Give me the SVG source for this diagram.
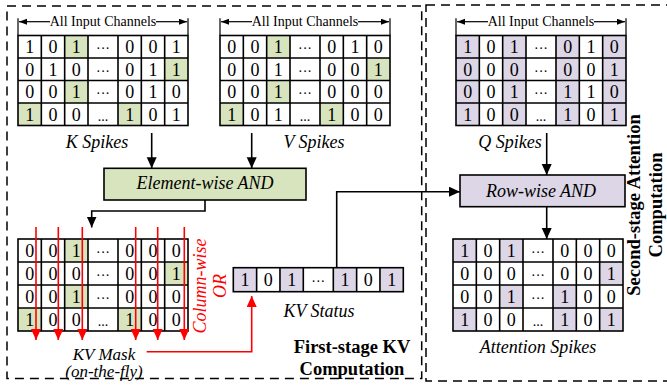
<svg xmlns="http://www.w3.org/2000/svg" xmlns:xlink="http://www.w3.org/1999/xlink" width="667" height="385" viewBox="0 0 667 385">
<style>
.ln{fill:none;stroke:#000;stroke-width:1.6}
.dash{fill:none;stroke:#000;stroke-width:1.5;stroke-dasharray:9 6}
.gr{fill:#d7e4bd}
.pu{fill:#dcd6e7}
.d{font-family:"Liberation Serif","Times New Roman",serif;font-size:18px;text-anchor:middle;fill:#000}
.dt{font-size:14px}
.cap{font-family:"Liberation Serif","Times New Roman",serif;font-size:14px;text-anchor:middle;fill:#000}
.it{font-family:"Liberation Serif","Times New Roman",serif;font-size:18px;font-style:italic;text-anchor:middle;fill:#000}
.sm{font-size:17px}
.bd{font-family:"Liberation Serif","Times New Roman",serif;font-size:18.5px;font-weight:bold;text-anchor:middle;fill:#000}
.red{fill:none;stroke:#f00;stroke-width:1.6}
.conn{fill:none;stroke:#000;stroke-width:1.6}
</style>
<defs>
<marker id="ah" markerUnits="userSpaceOnUse" markerWidth="12" markerHeight="12" refX="11" refY="5" orient="auto"><path d="M0,0 L11,5 L0,10 z" fill="#000"/></marker>
<marker id="ahr" markerUnits="userSpaceOnUse" markerWidth="12" markerHeight="12" refX="11" refY="5" orient="auto"><path d="M0,0 L11,5 L0,10 z" fill="#f00"/></marker>
<marker id="sa" markerUnits="userSpaceOnUse" markerWidth="9" markerHeight="8" refX="8" refY="3" orient="auto"><path d="M0,0 L8,3 L0,6 z" fill="#000"/></marker>
<g id="gridA" class="ln"><rect x="0" y="0" width="170" height="90"/><path d="M23.33,0V90M46.67,0V90M70,0V90M100,0V90M123.33,0V90M146.67,0V90M0,22.5H170M0,45H170M0,67.5H170"/></g>
<g id="gridB" class="ln"><rect x="0" y="0" width="170" height="92"/><path d="M23.33,0V92M46.67,0V92M70,0V92M100,0V92M123.33,0V92M146.67,0V92M0,23H170M0,46H170M0,69H170"/></g>
<g id="brk"><path class="ln" d="M0,18.3V35.5M170,18.3V35.5" style="stroke-width:1.2"/><path d="M32,21.7H1" class="ln" style="stroke-width:1.2" marker-end="url(#sa)"/><path d="M138,21.7H169" class="ln" style="stroke-width:1.2" marker-end="url(#sa)"/><text class="cap" x="85" y="26">All Input Channels</text></g>
</defs>

<g id="frames">
<rect class="dash" x="7" y="6" width="414.7" height="372.5"/>
<rect class="dash" x="426" y="5" width="250" height="376"/>
</g>

<g id="k-spikes">
<use xlink:href="#brk" transform="translate(18,0)"/>
<g transform="translate(18,35.5)">
<rect class="gr" x="46.67" y="0" width="23.33" height="22.5"/>
<rect class="gr" x="146.67" y="22.5" width="23.33" height="22.5"/>
<rect class="gr" x="46.67" y="45" width="23.33" height="22.5"/>
<rect class="gr" x="0" y="67.5" width="23.33" height="22.5"/>
<rect class="gr" x="100" y="67.5" width="23.33" height="22.5"/>
<use xlink:href="#gridA"/>
<text class="d" y="17.5"><tspan x="11.67">1</tspan><tspan x="35">0</tspan><tspan x="58.33">1</tspan><tspan x="85" class="dt">···</tspan><tspan x="111.67">0</tspan><tspan x="135">0</tspan><tspan x="158.33">1</tspan></text>
<text class="d" y="40"><tspan x="11.67">0</tspan><tspan x="35">1</tspan><tspan x="58.33">0</tspan><tspan x="85" class="dt">···</tspan><tspan x="111.67">0</tspan><tspan x="135">1</tspan><tspan x="158.33">1</tspan></text>
<text class="d" y="62.5"><tspan x="11.67">0</tspan><tspan x="35">0</tspan><tspan x="58.33">1</tspan><tspan x="85" class="dt">···</tspan><tspan x="111.67">0</tspan><tspan x="135">1</tspan><tspan x="158.33">0</tspan></text>
<text class="d" y="85"><tspan x="11.67">1</tspan><tspan x="35">0</tspan><tspan x="58.33">0</tspan><tspan x="85" class="dt">...</tspan><tspan x="111.67">1</tspan><tspan x="135">0</tspan><tspan x="158.33">1</tspan></text>
</g>
<text class="it" x="97" y="148">K Spikes</text>
</g>

<g id="v-spikes">
<use xlink:href="#brk" transform="translate(220,0)"/>
<g transform="translate(220,35.5)">
<rect class="gr" x="46.67" y="0" width="23.33" height="22.5"/>
<rect class="gr" x="146.67" y="22.5" width="23.33" height="22.5"/>
<rect class="gr" x="46.67" y="45" width="23.33" height="22.5"/>
<rect class="gr" x="0" y="67.5" width="23.33" height="22.5"/>
<rect class="gr" x="100" y="67.5" width="23.33" height="22.5"/>
<use xlink:href="#gridA"/>
<text class="d" y="17.5"><tspan x="11.67">0</tspan><tspan x="35">0</tspan><tspan x="58.33">1</tspan><tspan x="85" class="dt">···</tspan><tspan x="111.67">0</tspan><tspan x="135">1</tspan><tspan x="158.33">0</tspan></text>
<text class="d" y="40"><tspan x="11.67">0</tspan><tspan x="35">0</tspan><tspan x="58.33">1</tspan><tspan x="85" class="dt">···</tspan><tspan x="111.67">0</tspan><tspan x="135">0</tspan><tspan x="158.33">1</tspan></text>
<text class="d" y="62.5"><tspan x="11.67">0</tspan><tspan x="35">0</tspan><tspan x="58.33">1</tspan><tspan x="85" class="dt">···</tspan><tspan x="111.67">0</tspan><tspan x="135">0</tspan><tspan x="158.33">0</tspan></text>
<text class="d" y="85"><tspan x="11.67">1</tspan><tspan x="35">0</tspan><tspan x="58.33">1</tspan><tspan x="85" class="dt">...</tspan><tspan x="111.67">1</tspan><tspan x="135">0</tspan><tspan x="158.33">0</tspan></text>
</g>
<text class="it" x="314" y="148">V Spikes</text>
</g>

<g id="q-spikes">
<use xlink:href="#brk" transform="translate(456,0)"/>
<g transform="translate(456,35.5)">
<rect class="pu" x="0" y="0" width="23.33" height="90"/>
<rect class="pu" x="46.67" y="0" width="23.33" height="90"/>
<rect class="pu" x="100" y="0" width="23.33" height="90"/>
<rect class="pu" x="146.67" y="0" width="23.33" height="90"/>
<use xlink:href="#gridA"/>
<text class="d" y="17.5"><tspan x="11.67">1</tspan><tspan x="35">0</tspan><tspan x="58.33">1</tspan><tspan x="85" class="dt">···</tspan><tspan x="111.67">0</tspan><tspan x="135">1</tspan><tspan x="158.33">0</tspan></text>
<text class="d" y="40"><tspan x="11.67">0</tspan><tspan x="35">0</tspan><tspan x="58.33">0</tspan><tspan x="85" class="dt">···</tspan><tspan x="111.67">0</tspan><tspan x="135">0</tspan><tspan x="158.33">1</tspan></text>
<text class="d" y="62.5"><tspan x="11.67">0</tspan><tspan x="35">0</tspan><tspan x="58.33">1</tspan><tspan x="85" class="dt">···</tspan><tspan x="111.67">1</tspan><tspan x="135">1</tspan><tspan x="158.33">0</tspan></text>
<text class="d" y="85"><tspan x="11.67">1</tspan><tspan x="35">0</tspan><tspan x="58.33">0</tspan><tspan x="85" class="dt">...</tspan><tspan x="111.67">1</tspan><tspan x="135">0</tspan><tspan x="158.33">1</tspan></text>
</g>
<text class="it" x="510" y="148">Q Spikes</text>
</g>

<g id="element-and">
<rect x="104" y="168.3" width="202" height="31.7" class="gr" stroke="#000" stroke-width="1.6"/>
<text class="it" x="205" y="189">Element-wise AND</text>
</g>

<g id="row-and">
<rect x="460" y="175" width="165" height="31.7" class="pu" stroke="#000" stroke-width="1.6"/>
<text class="it" x="541" y="196.5">Row-wise AND</text>
</g>

<g id="kv-mask">
<g transform="translate(18,239)">
<rect class="gr" x="46.67" y="0" width="23.33" height="23"/>
<rect class="gr" x="146.67" y="23" width="23.33" height="23"/>
<rect class="gr" x="46.67" y="46" width="23.33" height="23"/>
<rect class="gr" x="0" y="69" width="23.33" height="23"/>
<rect class="gr" x="100" y="69" width="23.33" height="23"/>
<use xlink:href="#gridB"/>
<text class="d" y="17.7"><tspan x="11.67">0</tspan><tspan x="35">0</tspan><tspan x="58.33">1</tspan><tspan x="85" class="dt">···</tspan><tspan x="111.67">0</tspan><tspan x="135">0</tspan><tspan x="158.33">0</tspan></text>
<text class="d" y="40.7"><tspan x="11.67">0</tspan><tspan x="35">0</tspan><tspan x="58.33">0</tspan><tspan x="85" class="dt">···</tspan><tspan x="111.67">0</tspan><tspan x="135">0</tspan><tspan x="158.33">1</tspan></text>
<text class="d" y="63.7"><tspan x="11.67">0</tspan><tspan x="35">0</tspan><tspan x="58.33">1</tspan><tspan x="85" class="dt">···</tspan><tspan x="111.67">0</tspan><tspan x="135">0</tspan><tspan x="158.33">0</tspan></text>
<text class="d" y="86.7"><tspan x="11.67">1</tspan><tspan x="35">0</tspan><tspan x="58.33">0</tspan><tspan x="85" class="dt">...</tspan><tspan x="111.67">1</tspan><tspan x="135">0</tspan><tspan x="158.33">0</tspan></text>
</g>
<g class="red" marker-end="url(#ahr)">
<path d="M36,227V340"/><path d="M58.3,227V340"/><path d="M82.3,227V340"/><path d="M135.7,227V340"/><path d="M157.7,227V340"/><path d="M184.3,227V340"/>
</g>
<text class="it" transform="translate(205.5,286) rotate(-90)" style="fill:#f00">Column-wise</text>
<text class="it" transform="translate(226,286) rotate(-90)" style="fill:#f00">OR</text>
<text class="it sm" x="104" y="359.5">KV Mask</text>
<text class="it sm" x="104" y="377">(on-the-fly)</text>
</g>

<g id="kv-status">
<g transform="translate(233.3,267.7)">
<rect class="pu" x="0" y="0" width="23.33" height="24"/>
<rect class="pu" x="46.67" y="0" width="23.33" height="24"/>
<rect class="pu" x="100" y="0" width="23.33" height="24"/>
<rect class="pu" x="146.67" y="0" width="23.33" height="24"/>
<rect class="ln" x="0" y="0" width="170" height="24"/>
<path class="ln" d="M23.33,0V24M46.67,0V24M70,0V24M100,0V24M123.33,0V24M146.67,0V24"/>
<text class="d" y="18.3"><tspan x="11.67">1</tspan><tspan x="35">0</tspan><tspan x="58.33">1</tspan><tspan x="85" class="dt">···</tspan><tspan x="111.67">1</tspan><tspan x="135">0</tspan><tspan x="158.33">1</tspan></text>
</g>
<text class="it" x="319" y="316.5">KV Status</text>
</g>

<g id="attention-spikes">
<g transform="translate(453,239)">
<rect class="pu" x="0" y="0" width="23.33" height="23"/>
<rect class="pu" x="46.67" y="0" width="23.33" height="23"/>
<rect class="pu" x="146.67" y="23" width="23.33" height="23"/>
<rect class="pu" x="46.67" y="46" width="23.33" height="23"/>
<rect class="pu" x="100" y="46" width="23.33" height="23"/>
<rect class="pu" x="0" y="69" width="23.33" height="23"/>
<rect class="pu" x="100" y="69" width="23.33" height="23"/>
<rect class="pu" x="146.67" y="69" width="23.33" height="23"/>
<use xlink:href="#gridB"/>
<text class="d" y="17.7"><tspan x="11.67">1</tspan><tspan x="35">0</tspan><tspan x="58.33">1</tspan><tspan x="85" class="dt">···</tspan><tspan x="111.67">0</tspan><tspan x="135">0</tspan><tspan x="158.33">0</tspan></text>
<text class="d" y="40.7"><tspan x="11.67">0</tspan><tspan x="35">0</tspan><tspan x="58.33">0</tspan><tspan x="85" class="dt">···</tspan><tspan x="111.67">0</tspan><tspan x="135">0</tspan><tspan x="158.33">1</tspan></text>
<text class="d" y="63.7"><tspan x="11.67">0</tspan><tspan x="35">0</tspan><tspan x="58.33">1</tspan><tspan x="85" class="dt">···</tspan><tspan x="111.67">1</tspan><tspan x="135">0</tspan><tspan x="158.33">0</tspan></text>
<text class="d" y="86.7"><tspan x="11.67">1</tspan><tspan x="35">0</tspan><tspan x="58.33">0</tspan><tspan x="85" class="dt">...</tspan><tspan x="111.67">1</tspan><tspan x="135">0</tspan><tspan x="158.33">1</tspan></text>
</g>
<text class="it" x="538" y="353">Attention Spikes</text>
</g>

<g id="stage-labels">
<text class="bd" x="352" y="353.3">First-stage KV</text>
<text class="bd" x="352" y="375">Computation</text>
<text class="bd" transform="translate(640,205) rotate(-90)">Second-stage Attention</text>
<text class="bd" transform="translate(662,205) rotate(-90)">Computation</text>
</g>

<g id="connectors">
<path class="conn" d="M151.7,133V168.3" marker-end="url(#ah)"/>
<path class="conn" d="M251.7,133V168.3" marker-end="url(#ah)"/>
<path class="conn" d="M205,200V211H91.7V227.5" marker-end="url(#ah)"/>
<path class="conn" d="M336.7,267.7V191.7H460" marker-end="url(#ah)"/>
<path class="conn" d="M546.7,133V175" marker-end="url(#ah)"/>
<path class="conn" d="M546.7,206.7V239" marker-end="url(#ah)"/>
<path class="red" d="M146.7,351.7H251.7V296" marker-end="url(#ahr)"/>
</g>
</svg>
